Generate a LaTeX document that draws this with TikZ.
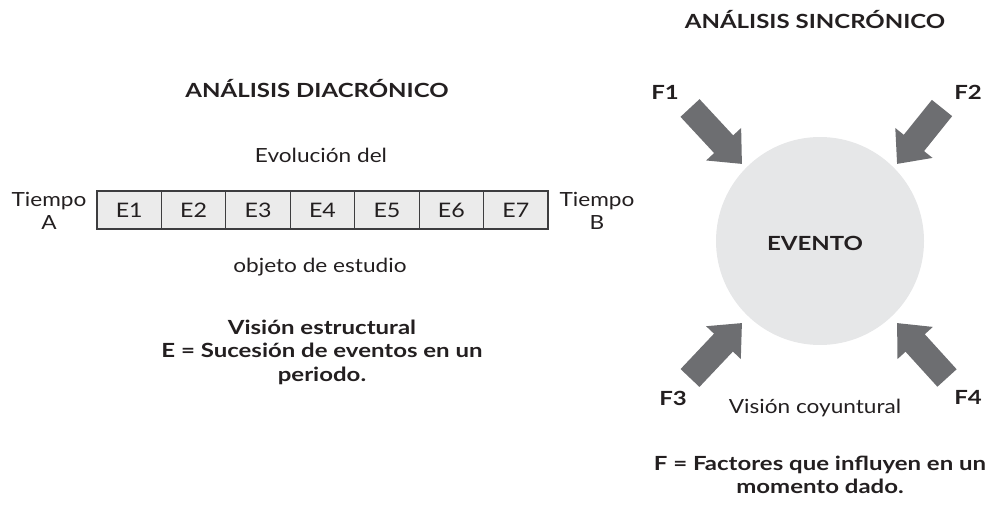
\documentclass[tikz,border=0pt]{standalone}
\usepackage{fontspec}
\setmainfont{Lato}[FakeStretch=1.16,BoldFeatures={FakeStretch=1.23}]
\usetikzlibrary{arrows.meta}
\definecolor{txt}{HTML}{231F20}
\definecolor{arrg}{HTML}{6D6E71}
\definecolor{circg}{HTML}{E6E7E8}
\definecolor{boxg}{HTML}{EBEBEB}
\definecolor{boxd}{HTML}{3D3D3F}
\tikzset{
  lbl/.style={text=txt,font=\fontsize{19.5}{23.5}\selectfont,inner sep=0pt,align=center},
  blbl/.style={lbl,font=\fontsize{19.5}{23.5}\selectfont\bfseries},
  ebox/.style={draw=boxd,line width=1.2pt,fill=boxg,minimum width=64.4pt,minimum height=38pt,inner sep=0pt,text=txt,font=\fontsize{20}{20}\selectfont},
  fat/.style={draw=arrg,line width=26pt,-{Triangle[length=27pt,width=46pt]}},
}
\begin{document}
\begin{tikzpicture}[x=1pt,y=-1pt]
\useasboundingbox (0,0) rectangle (995,521);
% left part
\node[blbl] (t1) at (317,89) {ANÁLISIS DIACRÓNICO};
\node[lbl] (ev) at (321,155) {Evolución del};
\foreach \i in {1,...,7}{
  \node[ebox] (e\i) at ({97+64.43*(\i-0.5)},210) {E\i};
}
\node[lbl] (ta) at (49,211) {Tiempo\\A};
\node[lbl] (tb) at (597,211) {Tiempo\\B};
\node[lbl] (obj) at (320,267) {objeto de estudio};
\node[blbl] (ve) at (322,352) {Visión estructural\\E = Sucesión de eventos en un\\periodo.};
% right part
\node[blbl] (t2) at (815,20) {ANÁLISIS SINCRÓNICO};
\node[circle,fill=circg,minimum size=208pt,inner sep=0pt] (evento) at (820,241) {};
\node[blbl] (evl) at (815,243) {EVENTO};
\coordinate (a1) at (690,108); \coordinate (b1) at (742,164);
\coordinate (a2) at (942,108); \coordinate (b2) at (897,164);
\coordinate (a3) at (690,378); \coordinate (b3) at (742,323);
\coordinate (a4) at (947,378); \coordinate (b4) at (897,323);
\foreach \i in {1,...,4}{ \draw[fat] (a\i) -- (b\i); }
\node[blbl] (f1) at (665,92) {F1};
\node[blbl] (f2) at (968,92) {F2};
\node[blbl] (f3) at (673,398) {F3};
\node[blbl] (f4) at (968,397) {F4};
\node[lbl] (vc) at (815,408) {Visión coyuntural};
\node[blbl] (fd) at (820,475) {F = Factores que influyen en un\\momento dado.};
\end{tikzpicture}
\end{document}
